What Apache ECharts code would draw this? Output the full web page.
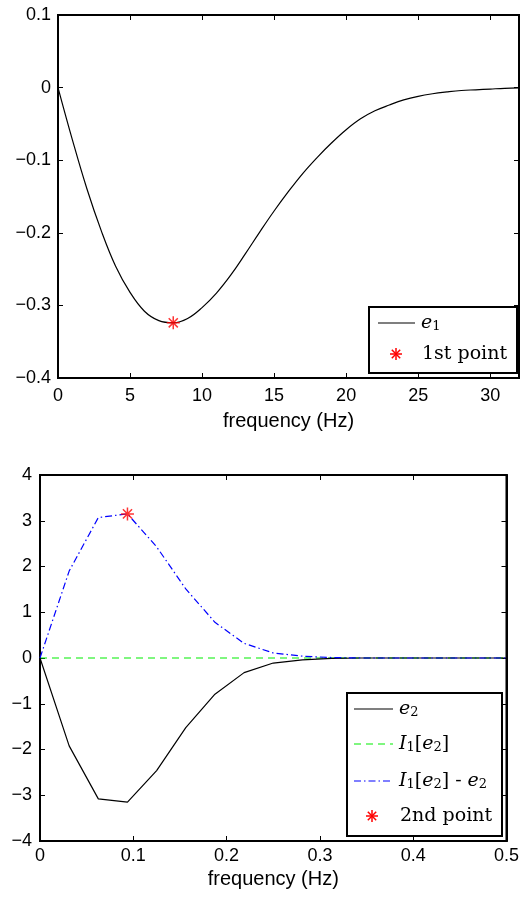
<!DOCTYPE html>
<html>
<head>
<meta charset="utf-8">
<script src="https://cdn.jsdelivr.net/npm/echarts@6/dist/echarts.min.js"></script>
<style>
html,body{margin:0;padding:0;background:#fff;}
#chart{width:522px;height:901px;}
</style>
</head>
<body>
<div id="chart"></div>
<script>
// ---- Data ----
const freq1 = [0,1,2,3,4,5,6,7,8,9,10,11,12,13,14,15,16,17,18,19,20,21,22,23,24,25,26,27,28,29,30,31,32];
const e1 = [0,-0.072,-0.139,-0.197,-0.246,-0.282,-0.308,-0.321,-0.324,-0.318,-0.303,-0.283,-0.258,-0.229,-0.199,-0.170,-0.143,-0.118,-0.096,-0.076,-0.058,-0.043,-0.032,-0.024,-0.017,-0.012,-0.0085,-0.006,-0.004,-0.003,-0.002,-0.001,-0.0005];
const point1 = [8, -0.324];

const freq2 = [0,0.03125,0.0625,0.09375,0.125,0.15625,0.1875,0.21875,0.25,0.28125,0.3125,0.34375,0.375,0.40625,0.4375,0.46875,0.5];
const e2 = [0,-1.92,-3.08,-3.15,-2.46,-1.52,-0.79,-0.32,-0.11,-0.04,-0.01,0,0,0,0,0,0];
const i1e2 = [0,0,0,0,0,0,0,0,0,0,0,0,0,0,0,0,0];
const diff = [0,1.90,3.07,3.15,2.43,1.51,0.78,0.32,0.11,0.04,0.01,0,0,0,0,0,0];
const point2 = [0.09375, 3.15];

const xTicks1 = [0,5,10,15,20,25,30];

// ---- Helpers ----
const SANS = 'Liberation Sans, Arial, Helvetica, sans-serif';
const SERIF = 'DejaVu Serif, serif';
const STAR = 'path://M5 0L5 10M0 5L10 5M1.5 1.5L8.5 8.5M1.5 8.5L8.5 1.5';
const zip = (xs, ys) => xs.map((x, i) => [x, ys[i]]);
function fmtNum(v, dec) {
  const r = Math.round(v * Math.pow(10, dec)) / Math.pow(10, dec);
  if (Math.abs(r) < 1e-9) return '0';
  return (r < 0 ? '\u2212' : '') + Math.abs(r).toFixed(dec);
}
function axisPair(gridIndex, min, max, interval, fmt, margin, name, nameGap, isX) {
  const base = {
    type: 'value', gridIndex, min, max, interval,
    splitLine: {show: false},
    axisLine: {show: true, onZero: false, lineStyle: {color: '#000', width: 2}},
    axisTick: {show: true, inside: true, length: 5, lineStyle: {color: '#000', width: 1}},
  };
  const main = Object.assign({}, base, {
    position: isX ? 'bottom' : 'left',
    axisLabel: {show: true, color: '#000', fontFamily: SANS, fontSize: 18, margin, formatter: fmt},
  });
  if (name) {
    Object.assign(main, {name, nameLocation: 'middle', nameGap,
      nameTextStyle: {color: '#000', fontFamily: SANS, fontSize: 20}});
  }
  const other = Object.assign({}, base, {
    position: isX ? 'top' : 'right',
    axisLabel: {show: false},
  });
  return [main, other];
}
function starLines(cx, cy, r) {
  const d = r * 0.7;
  const st = {stroke: '#ff0000', lineWidth: 1.5};
  return [
    {type: 'line', shape: {x1: cx, y1: cy - r, x2: cx, y2: cy + r}, style: st},
    {type: 'line', shape: {x1: cx - r, y1: cy, x2: cx + r, y2: cy}, style: st},
    {type: 'line', shape: {x1: cx - d, y1: cy - d, x2: cx + d, y2: cy + d}, style: st},
    {type: 'line', shape: {x1: cx - d, y1: cy + d, x2: cx + d, y2: cy - d}, style: st},
  ];
}
const rich = {
  i: {fontFamily: SERIF, fontStyle: 'italic', fontSize: 19, fill: '#000'},
  n: {fontFamily: SERIF, fontSize: 19, fill: '#000'},
  s: {fontFamily: SERIF, fontSize: 13, fill: '#000', padding: [7, 0, 0, 0]}
};
function mathText(x, y, txt) {
  return {type: 'text', x, y, style: {text: txt, rich, fill: '#000', verticalAlign: 'middle', align: 'left', font: '19px ' + SERIF}};
}

const chart = echarts.init(document.getElementById('chart'), null, {renderer: 'canvas'});

const x1 = axisPair(0, 0, 32, 5, v => (xTicks1.indexOf(v) >= 0 ? String(v) : ''), 9, 'frequency (Hz)', 33, true);
const y1 = axisPair(0, -0.4, 0.1, 0.1, v => fmtNum(v, 1), 7, null, 0, false);
const x2 = axisPair(1, 0, 0.5, 0.1, v => fmtNum(v, 1), 6, 'frequency (Hz)', 28, true);
const y2 = axisPair(1, -4, 4, 1, v => fmtNum(v, 0), 8, null, 0, false);

const option = {
  backgroundColor: '#fff',
  animation: false,
  grid: [
    {left: 58, top: 15, width: 463, height: 363, show: true, borderColor: '#000', borderWidth: 2, backgroundColor: '#fff'},
    {left: 40, top: 475, width: 467, height: 366, show: true, borderColor: '#000', borderWidth: 2, backgroundColor: '#fff'}
  ],
  xAxis: [x1[0], x1[1], x2[0], x2[1]],
  yAxis: [y1[0], y1[1], y2[0], y2[1]],
  series: [
    {type: 'line', xAxisIndex: 0, yAxisIndex: 0, data: zip(freq1, e1), smooth: 0.4, showSymbol: false,
     lineStyle: {color: '#000', width: 1.2}, z: 2},
    {type: 'scatter', xAxisIndex: 0, yAxisIndex: 0, data: [point1], symbol: STAR, symbolSize: 13,
     itemStyle: {color: '#ff0000', borderColor: '#ff0000', borderWidth: 1.5}, z: 5},
    {type: 'line', xAxisIndex: 2, yAxisIndex: 2, data: zip(freq2, i1e2), showSymbol: false,
     lineStyle: {color: '#00ee00', width: 1.2, type: [7, 5]}, z: 2},
    {type: 'line', xAxisIndex: 2, yAxisIndex: 2, data: zip(freq2, e2), showSymbol: false,
     lineStyle: {color: '#000', width: 1.2}, z: 3},
    {type: 'line', xAxisIndex: 2, yAxisIndex: 2, data: zip(freq2, diff), showSymbol: false,
     lineStyle: {color: '#0000ff', width: 1.2, type: [7, 3, 1.5, 3]}, z: 4},
    {type: 'scatter', xAxisIndex: 2, yAxisIndex: 2, data: [point2], symbol: STAR, symbolSize: 13,
     itemStyle: {color: '#ff0000', borderColor: '#ff0000', borderWidth: 1.5}, z: 5}
  ],
  graphic: [
    // top legend
    {type: 'group', z: 100, children: [
      {type: 'rect', shape: {x: 369, y: 307, width: 148, height: 66}, style: {fill: '#fff', stroke: '#000', lineWidth: 2}},
      {type: 'line', shape: {x1: 378, y1: 323, x2: 415, y2: 323}, style: {stroke: '#000', lineWidth: 1.2}},
      mathText(421, 323, '{i|e}{s|1}'),
      ...starLines(396, 354, 6),
      mathText(422, 354, '{n|1st point}')
    ]},
    // bottom legend
    {type: 'group', z: 100, children: [
      {type: 'rect', shape: {x: 347, y: 693, width: 155, height: 143}, style: {fill: '#fff', stroke: '#000', lineWidth: 2}},
      {type: 'line', shape: {x1: 354, y1: 709, x2: 393, y2: 709}, style: {stroke: '#000', lineWidth: 1.2}},
      mathText(399, 709, '{i|e}{s|2}'),
      {type: 'line', shape: {x1: 354, y1: 744, x2: 393, y2: 744}, style: {stroke: '#00ee00', lineWidth: 1.2, lineDash: [7, 5]}},
      mathText(399, 744, '{i|I}{s|1}{n|[}{i|e}{s|2}{n|]}'),
      {type: 'line', shape: {x1: 354, y1: 781, x2: 393, y2: 781}, style: {stroke: '#0000ff', lineWidth: 1.2, lineDash: [7, 3, 1.5, 3]}},
      mathText(399, 781, '{i|I}{s|1}{n|[}{i|e}{s|2}{n|] - }{i|e}{s|2}'),
      ...starLines(372, 816, 6),
      mathText(400, 816, '{n|2nd point}')
    ]}
  ]
};
chart.setOption(option);
</script>
</body>
</html>
